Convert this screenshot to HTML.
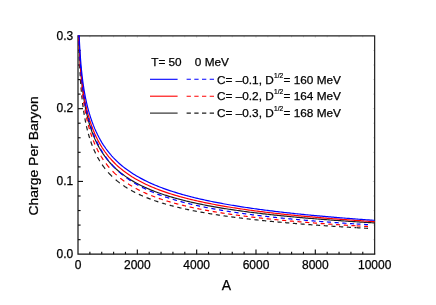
<!DOCTYPE html>
<html><head><meta charset="utf-8"><title>Charge Per Baryon</title>
<style>
html,body{margin:0;padding:0;background:#fff;}
body{width:436px;height:305px;overflow:hidden;}
svg{display:block;}
text{font-family:"Liberation Sans",sans-serif;font-size:12px;fill:#000;stroke:#000;stroke-width:0.25px;}
</style></head><body>
<svg width="436" height="305" viewBox="0 0 436 305">
<defs><filter id="soft" x="0" y="0" width="436" height="305" filterUnits="userSpaceOnUse"><feGaussianBlur stdDeviation="0.22"/></filter></defs>
<g filter="url(#soft)">
<rect width="436" height="305" fill="#fff"/>
<defs><clipPath id="cp"><rect x="77.25" y="35.15" width="298.15" height="219.80"/></clipPath></defs>
<g stroke="#111" stroke-width="1.15" fill="none">
<line x1="89.87" y1="254.20" x2="89.87" y2="251.80"/>
<line x1="101.73" y1="254.20" x2="101.73" y2="251.80"/>
<line x1="113.60" y1="254.20" x2="113.60" y2="251.80"/>
<line x1="125.46" y1="254.20" x2="125.46" y2="251.80"/>
<line x1="137.33" y1="254.20" x2="137.33" y2="249.40"/>
<line x1="149.20" y1="254.20" x2="149.20" y2="251.80"/>
<line x1="161.06" y1="254.20" x2="161.06" y2="251.80"/>
<line x1="172.93" y1="254.20" x2="172.93" y2="251.80"/>
<line x1="184.79" y1="254.20" x2="184.79" y2="251.80"/>
<line x1="196.66" y1="254.20" x2="196.66" y2="249.40"/>
<line x1="208.53" y1="254.20" x2="208.53" y2="251.80"/>
<line x1="220.39" y1="254.20" x2="220.39" y2="251.80"/>
<line x1="232.26" y1="254.20" x2="232.26" y2="251.80"/>
<line x1="244.12" y1="254.20" x2="244.12" y2="251.80"/>
<line x1="255.99" y1="254.20" x2="255.99" y2="249.40"/>
<line x1="267.86" y1="254.20" x2="267.86" y2="251.80"/>
<line x1="279.72" y1="254.20" x2="279.72" y2="251.80"/>
<line x1="291.59" y1="254.20" x2="291.59" y2="251.80"/>
<line x1="303.45" y1="254.20" x2="303.45" y2="251.80"/>
<line x1="315.32" y1="254.20" x2="315.32" y2="249.40"/>
<line x1="327.19" y1="254.20" x2="327.19" y2="251.80"/>
<line x1="339.05" y1="254.20" x2="339.05" y2="251.80"/>
<line x1="350.92" y1="254.20" x2="350.92" y2="251.80"/>
<line x1="362.78" y1="254.20" x2="362.78" y2="251.80"/>
<line x1="78.00" y1="239.65" x2="80.60" y2="239.65"/>
<line x1="78.00" y1="225.09" x2="80.60" y2="225.09"/>
<line x1="78.00" y1="210.54" x2="80.60" y2="210.54"/>
<line x1="78.00" y1="195.99" x2="80.60" y2="195.99"/>
<line x1="78.00" y1="181.43" x2="83.00" y2="181.43"/>
<line x1="78.00" y1="166.88" x2="80.60" y2="166.88"/>
<line x1="78.00" y1="152.33" x2="80.60" y2="152.33"/>
<line x1="78.00" y1="137.77" x2="80.60" y2="137.77"/>
<line x1="78.00" y1="123.22" x2="80.60" y2="123.22"/>
<line x1="78.00" y1="108.67" x2="83.00" y2="108.67"/>
<line x1="78.00" y1="94.11" x2="80.60" y2="94.11"/>
<line x1="78.00" y1="79.56" x2="80.60" y2="79.56"/>
<line x1="78.00" y1="65.01" x2="80.60" y2="65.01"/>
<line x1="78.00" y1="50.45" x2="80.60" y2="50.45"/>
</g>
<g stroke="#2a2a2a" stroke-width="1.0" fill="none" opacity="0.22">
<line x1="89.87" y1="35.90" x2="89.87" y2="37.30"/>
<line x1="101.73" y1="35.90" x2="101.73" y2="37.30"/>
<line x1="113.60" y1="35.90" x2="113.60" y2="37.30"/>
<line x1="125.46" y1="35.90" x2="125.46" y2="37.30"/>
<line x1="137.33" y1="35.90" x2="137.33" y2="37.70"/>
<line x1="149.20" y1="35.90" x2="149.20" y2="37.30"/>
<line x1="161.06" y1="35.90" x2="161.06" y2="37.30"/>
<line x1="172.93" y1="35.90" x2="172.93" y2="37.30"/>
<line x1="184.79" y1="35.90" x2="184.79" y2="37.30"/>
<line x1="196.66" y1="35.90" x2="196.66" y2="37.70"/>
<line x1="208.53" y1="35.90" x2="208.53" y2="37.30"/>
<line x1="220.39" y1="35.90" x2="220.39" y2="37.30"/>
<line x1="232.26" y1="35.90" x2="232.26" y2="37.30"/>
<line x1="244.12" y1="35.90" x2="244.12" y2="37.30"/>
<line x1="255.99" y1="35.90" x2="255.99" y2="37.70"/>
<line x1="267.86" y1="35.90" x2="267.86" y2="37.30"/>
<line x1="279.72" y1="35.90" x2="279.72" y2="37.30"/>
<line x1="291.59" y1="35.90" x2="291.59" y2="37.30"/>
<line x1="303.45" y1="35.90" x2="303.45" y2="37.30"/>
<line x1="315.32" y1="35.90" x2="315.32" y2="37.70"/>
<line x1="327.19" y1="35.90" x2="327.19" y2="37.30"/>
<line x1="339.05" y1="35.90" x2="339.05" y2="37.30"/>
<line x1="350.92" y1="35.90" x2="350.92" y2="37.30"/>
<line x1="362.78" y1="35.90" x2="362.78" y2="37.30"/>
<line x1="374.65" y1="239.65" x2="373.25" y2="239.65"/>
<line x1="374.65" y1="225.09" x2="373.25" y2="225.09"/>
<line x1="374.65" y1="210.54" x2="373.25" y2="210.54"/>
<line x1="374.65" y1="195.99" x2="373.25" y2="195.99"/>
<line x1="374.65" y1="181.43" x2="372.85" y2="181.43"/>
<line x1="374.65" y1="166.88" x2="373.25" y2="166.88"/>
<line x1="374.65" y1="152.33" x2="373.25" y2="152.33"/>
<line x1="374.65" y1="137.77" x2="373.25" y2="137.77"/>
<line x1="374.65" y1="123.22" x2="373.25" y2="123.22"/>
<line x1="374.65" y1="108.67" x2="372.85" y2="108.67"/>
<line x1="374.65" y1="94.11" x2="373.25" y2="94.11"/>
<line x1="374.65" y1="79.56" x2="373.25" y2="79.56"/>
<line x1="374.65" y1="65.01" x2="373.25" y2="65.01"/>
<line x1="374.65" y1="50.45" x2="373.25" y2="50.45"/>
</g>
<path d="M78.00,35.90 H374.65 V254.20" fill="none" stroke="#222" stroke-width="1.2" stroke-linejoin="miter"/>
<path d="M78.00,35.30 V254.20 H375.25" fill="none" stroke="#111" stroke-width="1.2" stroke-linejoin="miter"/>
<g clip-path="url(#cp)">
<path d="M78.00,-8.09 L78.30,14.63 L78.59,26.52 L78.89,35.76 L79.19,43.43 L79.48,50.01 L79.78,55.77 L80.08,60.88 L80.37,65.46 L80.67,69.60 L80.97,73.38 L81.26,76.84 L81.56,80.03 L81.86,82.99 L82.15,85.74 L82.45,88.31 L82.75,90.73 L83.04,93.00 L83.34,95.15 L83.64,97.18 L83.93,99.11 L84.23,100.95 L84.53,102.71 L84.82,104.39 L85.12,106.00 L85.42,107.55 L85.71,109.03 L86.01,110.47 L86.31,111.85 L86.60,113.18 L86.90,114.47 L87.20,115.72 L87.49,116.93 L87.79,118.10 L88.09,119.24 L88.38,120.35 L88.68,121.42 L88.98,122.47 L89.27,123.49 L89.57,124.48 L89.87,125.45 L90.46,127.32 L91.89,131.48 L93.32,135.22 L94.74,138.63 L96.17,141.75 L97.60,144.62 L99.03,147.27 L100.46,149.74 L101.88,152.04 L103.31,154.20 L104.74,156.22 L106.17,158.13 L107.60,159.93 L109.02,161.63 L110.45,163.25 L111.88,164.79 L113.31,166.25 L114.74,167.64 L116.16,168.97 L117.59,170.25 L119.02,171.47 L120.45,172.64 L121.88,173.76 L123.31,174.84 L124.73,175.88 L126.16,176.88 L127.59,177.85 L129.02,178.78 L130.45,179.68 L131.87,180.55 L133.30,181.39 L134.73,182.21 L136.16,183.00 L137.59,183.76 L139.01,184.50 L140.44,185.23 L141.87,185.93 L143.30,186.61 L144.73,187.27 L146.15,187.91 L147.58,188.54 L149.01,189.15 L150.44,189.75 L151.87,190.33 L153.30,190.89 L154.72,191.44 L156.15,191.98 L157.58,192.51 L159.01,193.02 L160.44,193.53 L161.86,194.02 L163.29,194.50 L164.72,194.97 L166.15,195.43 L167.58,195.88 L169.00,196.32 L170.43,196.75 L171.86,197.17 L173.29,197.59 L174.72,197.99 L176.14,198.39 L177.57,198.78 L179.00,199.16 L180.43,199.54 L181.86,199.91 L183.29,200.27 L184.71,200.63 L186.14,200.98 L187.57,201.32 L189.00,201.66 L190.43,201.99 L191.85,202.31 L193.28,202.63 L194.71,202.95 L196.14,203.26 L197.57,203.56 L198.99,203.86 L200.42,204.16 L201.85,204.45 L203.28,204.73 L204.71,205.01 L206.13,205.29 L207.56,205.56 L208.99,205.83 L210.42,206.10 L211.85,206.36 L213.28,206.62 L214.70,206.87 L216.13,207.12 L217.56,207.37 L218.99,207.61 L220.42,207.85 L221.84,208.08 L223.27,208.32 L224.70,208.55 L226.13,208.77 L227.56,209.00 L228.98,209.22 L230.41,209.44 L231.84,209.65 L233.27,209.86 L234.70,210.07 L236.12,210.28 L237.55,210.48 L238.98,210.69 L240.41,210.89 L241.84,211.08 L243.27,211.28 L244.69,211.47 L246.12,211.66 L247.55,211.85 L248.98,212.03 L250.41,212.22 L251.83,212.40 L253.26,212.58 L254.69,212.75 L256.12,212.93 L257.55,213.10 L258.97,213.27 L260.40,213.44 L261.83,213.61 L263.26,213.78 L264.69,213.94 L266.11,214.10 L267.54,214.26 L268.97,214.42 L270.40,214.58 L271.83,214.74 L273.26,214.89 L274.68,215.04 L276.11,215.19 L277.54,215.34 L278.97,215.49 L280.40,215.64 L281.82,215.78 L283.25,215.92 L284.68,216.07 L286.11,216.21 L287.54,216.35 L288.96,216.48 L290.39,216.62 L291.82,216.76 L293.25,216.89 L294.68,217.02 L296.10,217.15 L297.53,217.28 L298.96,217.41 L300.39,217.54 L301.82,217.67 L303.25,217.79 L304.67,217.92 L306.10,218.04 L307.53,218.16 L308.96,218.29 L310.39,218.41 L311.81,218.52 L313.24,218.64 L314.67,218.76 L316.10,218.88 L317.53,218.99 L318.95,219.10 L320.38,219.22 L321.81,219.33 L323.24,219.44 L324.67,219.55 L326.09,219.66 L327.52,219.77 L328.95,219.88 L330.38,219.98 L331.81,220.09 L333.24,220.19 L334.66,220.30 L336.09,220.40 L337.52,220.51 L338.95,220.61 L340.38,220.71 L341.80,220.81 L343.23,220.91 L344.66,221.01 L346.09,221.10 L347.52,221.20 L348.94,221.30 L350.37,221.39 L351.80,221.49 L353.23,221.58 L354.66,221.68 L356.08,221.77 L357.51,221.86 L358.94,221.95 L360.37,222.04 L361.80,222.13 L363.23,222.22 L364.65,222.31 L366.08,222.40 L367.51,222.49 L368.94,222.58 L370.37,222.66 L371.79,222.75 L373.22,222.83 L374.65,222.92" fill="none" stroke="#1e1e1e" stroke-width="1.2"/>
<path d="M78.47,34.01 L78.49,34.61 L78.50,35.19 L78.52,35.77 L78.53,36.34 L78.55,36.90 L78.56,37.45 M78.68,41.64 L78.70,42.14 L78.71,42.63 L78.73,43.12 L78.74,43.60 L78.76,44.07 L78.77,44.54 L78.79,45.01 L78.80,45.47 M78.93,49.43 L78.95,49.85 L78.96,50.27 L78.98,50.68 L78.99,51.09 L79.01,51.49 L79.02,51.90 L79.04,52.29 L79.05,52.69 L79.07,53.08 M79.22,56.83 L79.23,57.19 L79.26,57.90 L79.29,58.59 L79.32,59.28 L79.35,59.96 L79.38,60.63 M79.56,64.46 L79.57,64.76 L79.60,65.36 L79.63,65.96 L79.66,66.55 L79.69,67.13 L79.72,67.70 L79.75,68.27 L79.77,68.55 M79.97,72.31 L79.99,72.57 L80.02,73.08 L80.05,73.58 L80.08,74.08 L80.11,74.57 L80.14,75.06 L80.17,75.54 L80.20,76.02 L80.21,76.25 M80.45,79.87 L80.46,80.09 L80.51,80.73 L80.55,81.36 L80.60,81.99 L80.64,82.60 L80.68,83.21 L80.73,83.81 L80.74,84.00 M81.03,87.59 L81.04,87.77 L81.10,88.48 L81.16,89.18 L81.22,89.87 L81.28,90.55 L81.34,91.22 L81.38,91.71 M81.72,95.30 L81.74,95.45 L81.81,96.18 L81.89,96.91 L81.96,97.62 L82.03,98.31 L82.11,99.00 L82.15,99.40 M82.57,102.99 L82.58,103.12 L82.67,103.84 L82.76,104.55 L82.85,105.25 L82.94,105.94 L83.03,106.61 L83.10,107.16 M83.61,110.72 L83.62,110.82 L83.73,111.51 L83.83,112.18 L83.93,112.85 L84.04,113.50 L84.14,114.15 L84.24,114.78 L84.26,114.87 M84.88,118.44 L84.90,118.52 L85.03,119.24 L85.16,119.95 L85.30,120.64 L85.43,121.32 L85.56,121.99 L85.68,122.57 M86.44,126.10 L86.45,126.16 L86.62,126.88 L86.78,127.58 L86.94,128.27 L87.11,128.95 L87.27,129.61 L87.43,130.27 M88.37,133.80 L88.38,133.85 L88.59,134.59 L88.80,135.31 L89.01,136.02 L89.21,136.72 L89.42,137.41 L89.60,137.98 M90.76,141.52 L90.77,141.56 L91.02,142.29 L91.28,143.00 L91.53,143.69 L91.78,144.38 L92.03,145.05 L92.27,145.67 M93.71,149.21 L93.72,149.24 L94.03,149.96 L94.35,150.67 L94.66,151.36 L94.97,152.04 L95.28,152.70 L95.59,153.35 L95.61,153.38 M97.42,156.93 L97.43,156.95 L97.83,157.69 L98.23,158.41 L98.63,159.11 L99.03,159.80 L99.43,160.47 L99.80,161.08 M102.10,164.62 L102.12,164.65 L102.62,165.37 L103.13,166.08 L103.63,166.77 L104.13,167.45 L104.64,168.11 L105.14,168.76 L105.17,168.79 M108.12,172.31 L108.14,172.33 L108.81,173.07 L109.47,173.79 L110.14,174.49 L110.81,175.18 L111.48,175.85 L112.13,176.48 M115.65,179.69 L115.72,179.75 L116.37,180.30 L117.02,180.84 L117.67,181.37 L118.33,181.89 L118.98,182.40 L119.63,182.90 L119.83,183.05 M123.35,185.57 L123.42,185.62 L124.07,186.05 L124.72,186.49 L125.38,186.91 L126.03,187.33 L126.68,187.74 L127.33,188.14 L127.53,188.26 M131.06,190.32 L131.12,190.35 L131.77,190.71 L132.43,191.07 L133.08,191.42 L133.73,191.76 L134.38,192.10 L135.04,192.44 L135.23,192.53 M138.82,194.28 L138.89,194.31 L139.54,194.61 L140.19,194.91 L140.85,195.21 L141.50,195.50 L142.15,195.79 L142.80,196.07 L142.93,196.12 M146.52,197.61 L146.59,197.64 L147.24,197.90 L147.90,198.15 L148.55,198.41 L149.20,198.66 L149.85,198.90 L150.51,199.15 L150.64,199.20 M154.23,200.48 L154.29,200.51 L154.94,200.73 L155.60,200.95 L156.25,201.18 L156.90,201.39 L157.56,201.61 L158.21,201.82 L158.34,201.86 M161.93,202.99 L161.99,203.01 L162.65,203.21 L163.30,203.41 L163.95,203.60 L164.61,203.79 L165.26,203.98 L165.91,204.17 L166.04,204.21 M169.63,205.21 L169.70,205.23 L170.35,205.40 L171.00,205.58 L171.65,205.75 L172.31,205.92 L172.96,206.09 L173.61,206.26 L173.74,206.29 M177.33,207.19 L177.40,207.21 L178.05,207.36 L178.70,207.52 L179.36,207.68 L180.01,207.83 L180.66,207.98 L181.31,208.13 L181.45,208.16 M185.04,208.97 L185.10,208.98 L185.75,209.13 L186.41,209.27 L187.06,209.41 L187.71,209.55 L188.36,209.69 L189.02,209.82 L189.15,209.85 M192.74,210.58 L192.80,210.60 L193.46,210.73 L194.11,210.85 L194.76,210.98 L195.41,211.11 L196.07,211.23 L196.72,211.36 L196.85,211.38 M200.44,212.05 L200.50,212.06 L201.16,212.18 L201.81,212.30 L202.46,212.42 L203.12,212.53 L203.77,212.65 L204.42,212.76 L204.55,212.79 M208.14,213.40 L208.21,213.41 L208.86,213.52 L209.51,213.63 L210.16,213.74 L210.82,213.84 L211.47,213.95 L212.12,214.05 L212.25,214.07 M215.84,214.64 L215.91,214.65 L216.56,214.75 L217.21,214.85 L217.87,214.95 L218.52,215.05 L219.17,215.15 L219.83,215.25 L219.96,215.26 M223.55,215.79 L223.61,215.80 L224.26,215.89 L224.92,215.98 L225.57,216.08 L226.22,216.17 L226.87,216.26 L227.53,216.35 L227.66,216.37 M231.25,216.85 L231.31,216.86 L231.97,216.95 L232.62,217.04 L233.27,217.12 L233.92,217.21 L234.58,217.29 L235.23,217.38 L235.36,217.39 M238.95,217.85 L239.01,217.86 L239.67,217.94 L240.32,218.02 L240.97,218.10 L241.63,218.18 L242.28,218.26 L242.93,218.34 L243.06,218.35 M246.65,218.78 L246.72,218.78 L247.37,218.86 L248.02,218.94 L248.68,219.01 L249.33,219.09 L249.98,219.16 L250.63,219.23 L250.83,219.26 M254.35,219.65 L254.42,219.66 L255.07,219.73 L255.72,219.80 L256.38,219.87 L257.03,219.94 L257.68,220.01 L258.34,220.08 L258.53,220.10 M262.06,220.47 L262.12,220.47 L262.77,220.54 L263.43,220.61 L264.08,220.67 L264.73,220.74 L265.38,220.81 L266.04,220.87 L266.23,220.89 M269.76,221.24 L269.82,221.25 L270.48,221.31 L271.13,221.37 L271.78,221.43 L272.43,221.50 L273.09,221.56 L273.74,221.62 L273.94,221.64 M277.46,221.97 L277.53,221.97 L278.18,222.03 L278.83,222.09 L279.48,222.15 L280.14,222.21 L280.79,222.27 L281.44,222.33 L281.64,222.35 M285.16,222.66 L285.23,222.66 L285.88,222.72 L286.53,222.78 L287.19,222.83 L287.84,222.89 L288.49,222.95 L289.14,223.00 L289.34,223.02 M292.86,223.31 L292.93,223.32 L293.58,223.37 L294.24,223.43 L294.89,223.48 L295.54,223.53 L296.19,223.59 L296.85,223.64 L297.04,223.66 M300.57,223.94 L300.63,223.94 L301.28,223.99 L301.94,224.04 L302.59,224.10 L303.24,224.15 L303.90,224.20 L304.55,224.25 L304.74,224.26 M308.33,224.53 L308.40,224.54 L309.05,224.59 L309.70,224.64 L310.36,224.69 L311.01,224.73 L311.66,224.78 L312.32,224.83 L312.45,224.84 M316.04,225.10 L316.10,225.10 L316.75,225.15 L317.41,225.20 L318.06,225.24 L318.71,225.29 L319.36,225.34 L320.02,225.38 L320.15,225.39 M323.74,225.64 L323.80,225.64 L324.46,225.69 L325.11,225.73 L325.76,225.78 L326.41,225.82 L327.07,225.87 L327.72,225.91 L327.85,225.92 M331.44,226.16 L331.51,226.16 L332.16,226.20 L332.81,226.25 L333.46,226.29 L334.12,226.33 L334.77,226.37 L335.42,226.41 L335.55,226.42 M339.14,226.65 L339.21,226.65 L339.86,226.70 L340.51,226.74 L341.17,226.78 L341.82,226.82 L342.47,226.86 L343.12,226.90 L343.25,226.91 M346.84,227.12 L346.91,227.13 L347.56,227.17 L348.21,227.21 L348.87,227.25 L349.52,227.28 L350.17,227.32 L350.83,227.36 L350.96,227.37 M354.55,227.58 L354.61,227.58 L354.87,227.60 L355.13,227.61 L355.39,227.63 L355.66,227.64 L355.92,227.66 L356.18,227.67 M356.60,227.70 L358.55,227.81 L360.50,227.92 M364.10,228.12 L366.05,228.23 L368.00,228.33" fill="none" stroke="#1e1e1e" stroke-width="1.2"/>
<path d="M78.00,1.97 L78.30,19.66 L78.59,29.72 L78.89,37.72 L79.19,44.46 L79.48,50.30 L79.78,55.45 L80.08,60.05 L80.37,64.20 L80.67,67.97 L80.97,71.42 L81.26,74.59 L81.56,77.53 L81.86,80.26 L82.15,82.81 L82.45,85.20 L82.75,87.45 L83.04,89.57 L83.34,91.59 L83.64,93.50 L83.93,95.32 L84.23,97.06 L84.53,98.72 L84.82,100.32 L85.12,101.85 L85.42,103.32 L85.71,104.74 L86.01,106.11 L86.31,107.44 L86.60,108.72 L86.90,109.97 L87.20,111.17 L87.49,112.34 L87.79,113.48 L88.09,114.58 L88.38,115.66 L88.68,116.71 L88.98,117.73 L89.27,118.72 L89.57,119.70 L89.87,120.65 L90.46,122.48 L91.89,126.58 L93.32,130.30 L94.74,133.69 L96.17,136.81 L97.60,139.70 L99.03,142.38 L100.46,144.88 L101.88,147.22 L103.31,149.41 L104.74,151.48 L106.17,153.43 L107.60,155.28 L109.02,157.03 L110.45,158.69 L111.88,160.27 L113.31,161.78 L114.74,163.23 L116.16,164.61 L117.59,165.93 L119.02,167.19 L120.45,168.41 L121.88,169.58 L123.31,170.71 L124.73,171.79 L126.16,172.84 L127.59,173.85 L129.02,174.82 L130.45,175.76 L131.87,176.68 L133.30,177.56 L134.73,178.41 L136.16,179.24 L137.59,180.05 L139.01,180.83 L140.44,181.59 L141.87,182.33 L143.30,183.04 L144.73,183.74 L146.15,184.42 L147.58,185.08 L149.01,185.73 L150.44,186.35 L151.87,186.97 L153.30,187.57 L154.72,188.15 L156.15,188.72 L157.58,189.28 L159.01,189.82 L160.44,190.35 L161.86,190.87 L163.29,191.38 L164.72,191.88 L166.15,192.37 L167.58,192.84 L169.00,193.31 L170.43,193.77 L171.86,194.22 L173.29,194.66 L174.72,195.09 L176.14,195.51 L177.57,195.92 L179.00,196.33 L180.43,196.73 L181.86,197.12 L183.29,197.51 L184.71,197.88 L186.14,198.26 L187.57,198.62 L189.00,198.98 L190.43,199.33 L191.85,199.68 L193.28,200.02 L194.71,200.35 L196.14,200.68 L197.57,201.01 L198.99,201.33 L200.42,201.64 L201.85,201.95 L203.28,202.25 L204.71,202.55 L206.13,202.85 L207.56,203.14 L208.99,203.43 L210.42,203.71 L211.85,203.99 L213.28,204.26 L214.70,204.53 L216.13,204.80 L217.56,205.06 L218.99,205.32 L220.42,205.57 L221.84,205.82 L223.27,206.07 L224.70,206.32 L226.13,206.56 L227.56,206.80 L228.98,207.03 L230.41,207.27 L231.84,207.50 L233.27,207.72 L234.70,207.95 L236.12,208.17 L237.55,208.38 L238.98,208.60 L240.41,208.81 L241.84,209.02 L243.27,209.23 L244.69,209.44 L246.12,209.64 L247.55,209.84 L248.98,210.04 L250.41,210.23 L251.83,210.43 L253.26,210.62 L254.69,210.81 L256.12,210.99 L257.55,211.18 L258.97,211.36 L260.40,211.54 L261.83,211.72 L263.26,211.90 L264.69,212.07 L266.11,212.25 L267.54,212.42 L268.97,212.59 L270.40,212.75 L271.83,212.92 L273.26,213.08 L274.68,213.25 L276.11,213.41 L277.54,213.57 L278.97,213.72 L280.40,213.88 L281.82,214.03 L283.25,214.19 L284.68,214.34 L286.11,214.49 L287.54,214.64 L288.96,214.79 L290.39,214.93 L291.82,215.08 L293.25,215.22 L294.68,215.36 L296.10,215.50 L297.53,215.64 L298.96,215.78 L300.39,215.91 L301.82,216.05 L303.25,216.18 L304.67,216.32 L306.10,216.45 L307.53,216.58 L308.96,216.71 L310.39,216.83 L311.81,216.96 L313.24,217.09 L314.67,217.21 L316.10,217.34 L317.53,217.46 L318.95,217.58 L320.38,217.70 L321.81,217.82 L323.24,217.94 L324.67,218.06 L326.09,218.17 L327.52,218.29 L328.95,218.40 L330.38,218.52 L331.81,218.63 L333.24,218.74 L334.66,218.85 L336.09,218.96 L337.52,219.07 L338.95,219.18 L340.38,219.29 L341.80,219.40 L343.23,219.50 L344.66,219.61 L346.09,219.71 L347.52,219.82 L348.94,219.92 L350.37,220.02 L351.80,220.12 L353.23,220.22 L354.66,220.32 L356.08,220.42 L357.51,220.52 L358.94,220.62 L360.37,220.71 L361.80,220.81 L363.23,220.91 L364.65,221.00 L366.08,221.09 L367.51,221.19 L368.94,221.28 L370.37,221.37 L371.79,221.46 L373.22,221.55 L374.65,221.64" fill="none" stroke="#ff0000" stroke-width="1.2"/>
<path d="M78.70,33.01 L78.71,33.49 L78.73,33.95 L78.74,34.42 L78.76,34.87 L78.77,35.33 L78.79,35.78 L78.80,36.22 L78.82,36.66 M78.95,40.46 L78.96,40.86 L78.98,41.26 L78.99,41.66 L79.01,42.05 L79.02,42.44 L79.04,42.83 L79.05,43.21 L79.07,43.59 L79.08,43.97 L79.10,44.35 M79.25,47.95 L79.26,48.29 L79.29,48.98 L79.32,49.65 L79.35,50.31 L79.38,50.97 L79.41,51.62 L79.42,51.94 M79.60,55.62 L79.62,55.92 L79.65,56.50 L79.68,57.08 L79.71,57.65 L79.74,58.21 L79.77,58.76 L79.79,59.31 L79.81,59.59 M80.03,63.49 L80.05,63.74 L80.08,64.24 L80.11,64.73 L80.14,65.21 L80.17,65.69 L80.20,66.16 L80.22,66.63 L80.25,67.10 L80.27,67.33 M80.52,71.07 L80.54,71.28 L80.58,71.91 L80.63,72.53 L80.67,73.14 L80.71,73.74 L80.76,74.33 L80.80,74.92 L80.82,75.11 M81.11,78.80 L81.13,78.98 L81.19,79.68 L81.25,80.37 L81.31,81.05 L81.37,81.71 L81.43,82.37 L81.47,82.86 M81.83,86.55 L81.84,86.70 L81.90,87.28 L81.96,87.86 L82.02,88.42 L82.08,88.98 L82.14,89.53 L82.20,90.08 L82.24,90.48 M82.67,94.19 L82.69,94.31 L82.78,95.04 L82.87,95.75 L82.95,96.45 L83.04,97.13 L83.13,97.81 L83.19,98.25 M83.70,101.84 L83.71,101.94 L83.81,102.64 L83.92,103.33 L84.02,104.00 L84.13,104.67 L84.23,105.32 L84.33,105.96 M84.94,109.53 L84.96,109.61 L85.09,110.35 L85.22,111.08 L85.36,111.80 L85.49,112.50 L85.62,113.19 L85.73,113.71 M86.47,117.30 L86.48,117.36 L86.63,118.04 L86.78,118.71 L86.93,119.36 L87.08,120.01 L87.23,120.64 L87.37,121.27 L87.40,121.39 M88.29,124.94 L88.31,125.00 L88.50,125.72 L88.69,126.44 L88.89,127.14 L89.08,127.83 L89.27,128.51 L89.45,129.12 M90.53,132.67 L90.55,132.72 L90.77,133.41 L90.99,134.08 L91.22,134.75 L91.44,135.41 L91.66,136.05 L91.88,136.68 L91.93,136.81 M93.25,140.35 L93.26,140.39 L93.54,141.11 L93.83,141.81 L94.11,142.50 L94.39,143.17 L94.67,143.84 L94.95,144.49 L94.97,144.52 M96.59,148.05 L96.60,148.09 L96.96,148.82 L97.31,149.54 L97.67,150.24 L98.02,150.93 L98.38,151.61 L98.72,152.24 M100.72,155.76 L100.74,155.78 L101.18,156.52 L101.63,157.24 L102.07,157.94 L102.52,158.63 L102.96,159.30 L103.39,159.94 M105.91,163.46 L105.93,163.48 L106.49,164.22 L107.06,164.93 L107.62,165.64 L108.18,166.32 L108.75,167.00 L109.31,167.66 M112.54,171.18 L112.56,171.19 L112.86,171.50 L113.15,171.80 L113.45,172.09 L114.22,172.85 L115.52,174.09 L116.70,175.16 M120.29,178.20 L120.35,178.26 L121.00,178.77 L121.66,179.28 L122.31,179.78 L122.96,180.27 L123.61,180.75 L124.27,181.23 L124.40,181.32 M127.99,183.77 L128.05,183.81 L128.71,184.23 L129.36,184.65 L130.01,185.06 L130.66,185.46 L131.32,185.85 L131.97,186.24 L132.10,186.32 M135.69,188.35 L135.75,188.38 L136.41,188.73 L137.06,189.08 L137.71,189.42 L138.37,189.76 L139.02,190.09 L139.67,190.41 L139.80,190.48 M143.39,192.20 L143.46,192.23 L144.11,192.52 L144.76,192.82 L145.42,193.11 L146.07,193.40 L146.72,193.68 L147.37,193.96 L147.50,194.01 M151.09,195.49 L151.16,195.52 L151.81,195.77 L152.46,196.03 L153.12,196.28 L153.77,196.53 L154.42,196.78 L155.08,197.02 L155.21,197.07 M158.80,198.35 L158.86,198.38 L159.51,198.60 L160.17,198.83 L160.82,199.05 L161.47,199.27 L162.12,199.48 L162.78,199.70 L162.91,199.74 M166.50,200.87 L166.56,200.89 L167.22,201.09 L167.87,201.29 L168.52,201.49 L169.17,201.68 L169.83,201.87 L170.48,202.06 L170.61,202.10 M174.20,203.11 L174.27,203.13 L174.92,203.31 L175.57,203.48 L176.22,203.66 L176.88,203.83 L177.53,204.00 L178.18,204.17 L178.31,204.21 M181.90,205.12 L181.97,205.13 L182.62,205.29 L183.27,205.45 L183.93,205.61 L184.58,205.76 L185.23,205.92 L185.88,206.07 L186.01,206.10 M189.60,206.92 L189.67,206.94 L190.32,207.08 L190.97,207.23 L191.63,207.37 L192.28,207.51 L192.93,207.65 L193.59,207.79 L193.72,207.82 M197.31,208.57 L197.37,208.58 L198.02,208.71 L198.68,208.85 L199.33,208.98 L199.98,209.11 L200.64,209.23 L201.29,209.36 L201.42,209.39 M205.01,210.07 L205.07,210.08 L205.73,210.20 L206.38,210.32 L207.03,210.44 L207.68,210.56 L208.34,210.68 L208.99,210.80 L209.12,210.82 M212.71,211.45 L212.78,211.46 L213.43,211.57 L214.08,211.68 L214.73,211.79 L215.39,211.90 L216.04,212.01 L216.69,212.12 L216.82,212.14 M220.41,212.72 L220.48,212.73 L221.13,212.84 L221.78,212.94 L222.44,213.04 L223.09,213.14 L223.74,213.24 L224.39,213.34 L224.59,213.37 M228.11,213.90 L228.18,213.91 L228.83,214.01 L229.49,214.10 L230.14,214.20 L230.79,214.29 L231.44,214.38 L232.10,214.48 L232.29,214.50 M235.82,215.00 L235.88,215.01 L236.53,215.09 L237.19,215.18 L237.84,215.27 L238.49,215.36 L239.15,215.45 L239.80,215.53 L239.99,215.56 M243.52,216.02 L243.58,216.03 L244.24,216.11 L244.89,216.19 L245.54,216.28 L246.19,216.36 L246.85,216.44 L247.50,216.52 L247.70,216.54 M251.22,216.97 L251.29,216.98 L251.94,217.06 L252.59,217.14 L253.24,217.21 L253.90,217.29 L254.55,217.37 L255.20,217.44 L255.40,217.47 M258.92,217.87 L258.99,217.88 L259.64,217.95 L260.29,218.02 L260.95,218.10 L261.60,218.17 L262.25,218.24 L262.90,218.31 L263.10,218.33 M266.63,218.71 L266.69,218.72 L267.34,218.79 L268.00,218.86 L268.65,218.93 L269.30,218.99 L269.95,219.06 L270.61,219.13 L270.80,219.15 M274.33,219.51 L274.39,219.51 L275.05,219.58 L275.70,219.64 L276.35,219.71 L277.00,219.77 L277.66,219.84 L278.31,219.90 L278.50,219.92 M282.09,220.26 L282.16,220.27 L282.81,220.33 L283.47,220.39 L284.12,220.46 L284.77,220.52 L285.42,220.58 L286.08,220.64 L286.21,220.65 M289.80,220.98 L289.86,220.98 L290.51,221.04 L291.17,221.10 L291.82,221.16 L292.47,221.21 L293.13,221.27 L293.78,221.33 L293.91,221.34 M297.50,221.65 L297.56,221.65 L298.22,221.71 L298.87,221.77 L299.52,221.82 L300.17,221.88 L300.83,221.93 L301.48,221.98 L301.61,221.99 M305.20,222.29 L305.27,222.29 L305.92,222.35 L306.57,222.40 L307.22,222.45 L307.88,222.50 L308.53,222.56 L309.18,222.61 L309.31,222.62 M312.90,222.90 L312.97,222.90 L313.62,222.95 L314.27,223.00 L314.93,223.05 L315.58,223.10 L316.23,223.15 L316.88,223.20 L317.01,223.21 M320.60,223.48 L320.67,223.48 L321.32,223.53 L321.98,223.58 L322.63,223.63 L323.28,223.67 L323.93,223.72 L324.59,223.77 L324.72,223.78 M328.31,224.03 L328.37,224.04 L329.02,224.08 L329.68,224.13 L330.33,224.18 L330.98,224.22 L331.64,224.27 L332.29,224.31 L332.42,224.32 M336.01,224.56 L336.07,224.57 L336.73,224.61 L337.38,224.66 L338.03,224.70 L338.69,224.74 L339.34,224.79 L339.99,224.83 L340.12,224.84 M343.71,225.07 L343.78,225.08 L344.43,225.12 L345.08,225.16 L345.73,225.20 L346.39,225.24 L347.04,225.28 L347.69,225.32 L347.82,225.33 M351.41,225.56 L351.48,225.56 L352.13,225.60 L352.78,225.64 L353.44,225.68 L354.09,225.72 L354.74,225.76 L355.39,225.80 L355.53,225.81 M356.60,225.87 L358.55,225.99 L360.50,226.11 M364.10,226.32 L366.05,226.43 L368.00,226.54" fill="none" stroke="#ff0000" stroke-width="1.2"/>
<path d="M78.00,-7.88 L78.30,10.89 L78.59,21.36 L78.89,29.65 L79.19,36.62 L79.48,42.66 L79.78,47.97 L80.08,52.72 L80.37,56.99 L80.67,60.88 L80.97,64.43 L81.26,67.70 L81.56,70.73 L81.86,73.54 L82.15,76.17 L82.45,78.64 L82.75,80.96 L83.04,83.15 L83.34,85.22 L83.64,87.19 L83.93,89.07 L84.23,90.86 L84.53,92.58 L84.82,94.22 L85.12,95.80 L85.42,97.32 L85.71,98.79 L86.01,100.20 L86.31,101.57 L86.60,102.89 L86.90,104.17 L87.20,105.41 L87.49,106.62 L87.79,107.79 L88.09,108.93 L88.38,110.04 L88.68,111.12 L88.98,112.17 L89.27,113.20 L89.57,114.20 L89.87,115.18 L90.46,117.07 L91.89,121.30 L93.32,125.13 L94.74,128.63 L96.17,131.85 L97.60,134.82 L99.03,137.58 L100.46,140.16 L101.88,142.57 L103.31,144.84 L104.74,146.97 L106.17,148.99 L107.60,150.89 L109.02,152.70 L110.45,154.42 L111.88,156.06 L113.31,157.62 L114.74,159.11 L116.16,160.54 L117.59,161.90 L119.02,163.21 L120.45,164.47 L121.88,165.68 L123.31,166.85 L124.73,167.97 L126.16,169.05 L127.59,170.10 L129.02,171.11 L130.45,172.09 L131.87,173.03 L133.30,173.95 L134.73,174.84 L136.16,175.70 L137.59,176.53 L139.01,177.34 L140.44,178.13 L141.87,178.90 L143.30,179.64 L144.73,180.37 L146.15,181.08 L147.58,181.76 L149.01,182.43 L150.44,183.09 L151.87,183.73 L153.30,184.35 L154.72,184.96 L156.15,185.55 L157.58,186.13 L159.01,186.70 L160.44,187.25 L161.86,187.79 L163.29,188.32 L164.72,188.84 L166.15,189.35 L167.58,189.85 L169.00,190.34 L170.43,190.81 L171.86,191.28 L173.29,191.74 L174.72,192.19 L176.14,192.64 L177.57,193.07 L179.00,193.49 L180.43,193.91 L181.86,194.32 L183.29,194.73 L184.71,195.12 L186.14,195.51 L187.57,195.89 L189.00,196.27 L190.43,196.64 L191.85,197.00 L193.28,197.36 L194.71,197.71 L196.14,198.06 L197.57,198.40 L198.99,198.73 L200.42,199.06 L201.85,199.38 L203.28,199.70 L204.71,200.02 L206.13,200.33 L207.56,200.64 L208.99,200.94 L210.42,201.23 L211.85,201.53 L213.28,201.81 L214.70,202.10 L216.13,202.38 L217.56,202.66 L218.99,202.93 L220.42,203.20 L221.84,203.46 L223.27,203.72 L224.70,203.98 L226.13,204.24 L227.56,204.49 L228.98,204.74 L230.41,204.98 L231.84,205.23 L233.27,205.46 L234.70,205.70 L236.12,205.93 L237.55,206.16 L238.98,206.39 L240.41,206.62 L241.84,206.84 L243.27,207.06 L244.69,207.28 L246.12,207.49 L247.55,207.70 L248.98,207.91 L250.41,208.12 L251.83,208.33 L253.26,208.53 L254.69,208.73 L256.12,208.93 L257.55,209.12 L258.97,209.32 L260.40,209.51 L261.83,209.70 L263.26,209.89 L264.69,210.07 L266.11,210.26 L267.54,210.44 L268.97,210.62 L270.40,210.80 L271.83,210.97 L273.26,211.15 L274.68,211.32 L276.11,211.49 L277.54,211.66 L278.97,211.83 L280.40,212.00 L281.82,212.16 L283.25,212.32 L284.68,212.49 L286.11,212.65 L287.54,212.81 L288.96,212.96 L290.39,213.12 L291.82,213.27 L293.25,213.42 L294.68,213.58 L296.10,213.73 L297.53,213.87 L298.96,214.02 L300.39,214.17 L301.82,214.31 L303.25,214.46 L304.67,214.60 L306.10,214.74 L307.53,214.88 L308.96,215.02 L310.39,215.15 L311.81,215.29 L313.24,215.43 L314.67,215.56 L316.10,215.69 L317.53,215.82 L318.95,215.96 L320.38,216.08 L321.81,216.21 L323.24,216.34 L324.67,216.47 L326.09,216.59 L327.52,216.72 L328.95,216.84 L330.38,216.96 L331.81,217.08 L333.24,217.21 L334.66,217.33 L336.09,217.44 L337.52,217.56 L338.95,217.68 L340.38,217.79 L341.80,217.91 L343.23,218.02 L344.66,218.14 L346.09,218.25 L347.52,218.36 L348.94,218.47 L350.37,218.58 L351.80,218.69 L353.23,218.80 L354.66,218.91 L356.08,219.02 L357.51,219.12 L358.94,219.23 L360.37,219.33 L361.80,219.44 L363.23,219.54 L364.65,219.64 L366.08,219.74 L367.51,219.85 L368.94,219.95 L370.37,220.05 L371.79,220.15 L373.22,220.24 L374.65,220.34" fill="none" stroke="#0000ff" stroke-width="1.2"/>
<path d="M78.74,33.45 L78.76,33.85 L78.77,34.24 L78.79,34.63 L78.80,35.02 L78.82,35.40 L78.83,35.78 L78.85,36.16 L78.86,36.53 L78.88,36.90 L78.89,37.27 M79.05,41.13 L79.07,41.47 L79.10,42.13 L79.13,42.79 L79.16,43.43 L79.19,44.07 L79.22,44.70 L79.23,45.01 M79.42,48.87 L79.44,49.16 L79.47,49.72 L79.50,50.28 L79.53,50.83 L79.56,51.37 L79.59,51.91 L79.62,52.44 L79.63,52.70 M79.85,56.48 L79.87,56.72 L79.91,57.44 L79.96,58.14 L80.00,58.84 L80.05,59.52 L80.09,60.19 L80.11,60.41 M80.36,64.03 L80.37,64.23 L80.42,64.84 L80.46,65.43 L80.51,66.02 L80.55,66.60 L80.60,67.18 L80.64,67.74 L80.67,68.12 M80.98,71.85 L81.00,72.02 L81.06,72.70 L81.11,73.36 L81.17,74.01 L81.23,74.65 L81.29,75.29 L81.34,75.76 M81.71,79.47 L81.72,79.61 L81.80,80.31 L81.87,81.00 L81.95,81.68 L82.02,82.35 L82.09,83.01 L82.15,83.52 M82.60,87.21 L82.61,87.33 L82.70,88.03 L82.79,88.72 L82.88,89.39 L82.97,90.05 L83.06,90.71 L83.13,91.24 M83.67,94.91 L83.68,95.01 L83.78,95.68 L83.89,96.35 L83.99,97.00 L84.10,97.64 L84.20,98.28 L84.30,98.90 L84.32,98.99 M84.94,102.54 L84.96,102.62 L85.09,103.34 L85.22,104.05 L85.36,104.74 L85.49,105.43 L85.62,106.10 L85.74,106.69 M86.50,110.27 L86.51,110.34 L86.66,111.01 L86.81,111.66 L86.96,112.31 L87.11,112.95 L87.26,113.57 L87.40,114.19 L87.45,114.38 M88.35,117.95 L88.37,118.00 L88.56,118.73 L88.75,119.44 L88.95,120.14 L89.14,120.82 L89.33,121.50 L89.51,122.12 M90.59,125.68 L90.61,125.72 L90.83,126.42 L91.05,127.10 L91.28,127.77 L91.50,128.44 L91.72,129.09 L91.94,129.73 L91.97,129.81 M93.28,133.38 L93.29,133.42 L93.56,134.11 L93.83,134.79 L94.09,135.46 L94.36,136.12 L94.63,136.77 L94.89,137.41 L94.94,137.51 M96.51,141.06 L96.53,141.09 L96.87,141.82 L97.21,142.54 L97.55,143.24 L97.89,143.93 L98.23,144.61 L98.54,145.22 M100.46,148.76 L100.47,148.79 L100.89,149.51 L101.30,150.22 L101.72,150.92 L102.13,151.61 L102.55,152.28 L102.96,152.94 M105.32,156.47 L105.34,156.49 L105.86,157.22 L106.37,157.94 L106.89,158.64 L107.41,159.33 L107.93,160.01 L108.44,160.65 M111.37,164.17 L111.39,164.18 L111.82,164.67 L112.25,165.14 L112.68,165.62 L113.11,166.08 L113.54,166.54 L115.19,168.24 L115.26,168.30 M118.85,171.70 L118.91,171.75 L119.57,172.33 L120.22,172.90 L120.87,173.45 L121.53,174.00 L122.18,174.54 L122.83,175.06 L122.96,175.17 M126.55,177.89 L126.62,177.94 L127.27,178.41 L127.92,178.87 L128.57,179.32 L129.23,179.77 L129.88,180.21 L130.53,180.64 L130.73,180.77 M134.25,182.98 L134.32,183.02 L134.97,183.41 L135.62,183.79 L136.28,184.17 L136.93,184.54 L137.58,184.91 L138.24,185.27 L138.43,185.38 M141.96,187.25 L142.02,187.28 L142.67,187.61 L143.33,187.94 L143.98,188.26 L144.63,188.58 L145.28,188.89 L145.94,189.20 L146.13,189.29 M149.66,190.90 L149.72,190.92 L150.38,191.21 L151.03,191.49 L151.68,191.77 L152.33,192.04 L152.99,192.32 L153.64,192.59 L153.84,192.67 M157.36,194.06 L157.43,194.09 L158.08,194.34 L158.73,194.58 L159.38,194.83 L160.04,195.07 L160.69,195.31 L161.34,195.54 L161.54,195.61 M165.06,196.84 L165.13,196.86 L165.78,197.08 L166.43,197.30 L167.09,197.52 L167.74,197.73 L168.39,197.94 L169.04,198.15 L169.24,198.21 M172.76,199.30 L172.83,199.32 L173.48,199.52 L174.13,199.71 L174.79,199.91 L175.44,200.10 L176.09,200.29 L176.75,200.47 L176.94,200.53 M180.47,201.51 L180.53,201.53 L181.18,201.70 L181.84,201.88 L182.49,202.05 L183.14,202.22 L183.79,202.39 L184.45,202.56 L184.64,202.61 M188.23,203.51 L188.30,203.53 L188.95,203.68 L189.60,203.84 L190.26,204.00 L190.91,204.15 L191.56,204.31 L192.22,204.46 L192.35,204.49 M195.94,205.31 L196.00,205.32 L196.65,205.47 L197.31,205.61 L197.96,205.75 L198.61,205.90 L199.26,206.04 L199.92,206.17 L200.05,206.20 M203.64,206.95 L203.70,206.96 L204.36,207.09 L205.01,207.23 L205.66,207.36 L206.31,207.49 L206.97,207.61 L207.62,207.74 L207.75,207.77 M211.34,208.45 L211.40,208.46 L212.06,208.59 L212.71,208.71 L213.36,208.83 L214.02,208.95 L214.67,209.06 L215.32,209.18 L215.45,209.20 M219.04,209.84 L219.11,209.85 L219.76,209.96 L220.41,210.07 L221.07,210.18 L221.72,210.29 L222.37,210.40 L223.02,210.51 L223.15,210.53 M226.74,211.11 L226.81,211.13 L227.46,211.23 L228.11,211.33 L228.77,211.44 L229.42,211.54 L230.07,211.64 L230.73,211.74 L230.86,211.76 M234.45,212.30 L234.51,212.31 L235.16,212.41 L235.82,212.50 L236.47,212.60 L237.12,212.69 L237.77,212.79 L238.43,212.88 L238.56,212.90 M242.15,213.41 L242.21,213.41 L242.87,213.50 L243.52,213.59 L244.17,213.68 L244.82,213.77 L245.48,213.86 L246.13,213.95 L246.26,213.96 M249.85,214.44 L249.92,214.44 L250.57,214.53 L251.22,214.61 L251.87,214.70 L252.53,214.78 L253.18,214.86 L253.83,214.94 L253.96,214.96 M257.55,215.40 L257.62,215.41 L258.27,215.49 L258.92,215.57 L259.58,215.64 L260.23,215.72 L260.88,215.80 L261.53,215.88 L261.66,215.89 M265.25,216.31 L265.32,216.31 L265.97,216.39 L266.63,216.46 L267.28,216.53 L267.93,216.61 L268.58,216.68 L269.24,216.75 L269.37,216.77 M272.96,217.16 L273.02,217.16 L273.67,217.23 L274.33,217.30 L274.98,217.37 L275.63,217.44 L276.29,217.51 L276.94,217.58 L277.07,217.59 M280.66,217.96 L280.72,217.97 L281.38,218.03 L282.03,218.10 L282.68,218.16 L283.33,218.23 L283.99,218.29 L284.64,218.36 L284.77,218.37 M288.36,218.72 L288.43,218.72 L289.08,218.79 L289.73,218.85 L290.38,218.91 L291.04,218.97 L291.69,219.03 L292.34,219.09 L292.47,219.11 M296.06,219.44 L296.13,219.44 L296.78,219.50 L297.43,219.56 L298.09,219.62 L298.74,219.68 L299.39,219.73 L300.04,219.79 L300.17,219.80 M303.76,220.12 L303.83,220.12 L304.48,220.18 L305.14,220.23 L305.79,220.29 L306.44,220.34 L307.09,220.40 L307.75,220.45 L307.94,220.47 M311.47,220.76 L311.53,220.77 L312.18,220.82 L312.84,220.87 L313.49,220.93 L314.14,220.98 L314.80,221.03 L315.45,221.08 L315.64,221.10 M319.17,221.38 L319.23,221.38 L319.89,221.43 L320.54,221.48 L321.19,221.53 L321.85,221.58 L322.50,221.63 L323.15,221.68 L323.35,221.70 M326.87,221.96 L326.94,221.97 L327.59,222.01 L328.24,222.06 L328.89,222.11 L329.55,222.16 L330.20,222.20 L330.85,222.25 L331.05,222.27 M334.57,222.52 L334.64,222.52 L335.29,222.57 L335.94,222.61 L336.60,222.66 L337.25,222.71 L337.90,222.75 L338.55,222.80 L338.75,222.81 M342.28,223.05 L342.34,223.05 L342.99,223.10 L343.65,223.14 L344.30,223.19 L344.95,223.23 L345.60,223.27 L346.26,223.32 L346.45,223.33 M349.98,223.56 L350.04,223.56 L350.70,223.61 L351.35,223.65 L352.00,223.69 L352.65,223.73 L353.31,223.77 L353.96,223.81 L354.15,223.83 M356.60,223.98 L358.55,224.10 L360.50,224.22 M364.10,224.44 L366.05,224.55 L368.00,224.67" fill="none" stroke="#0000ff" stroke-width="1.2"/>
</g>
<g>
<text x="73.2" y="257.90" text-anchor="end">0.0</text>
<text x="73.2" y="185.13" text-anchor="end">0.1</text>
<text x="73.2" y="112.37" text-anchor="end">0.2</text>
<text x="73.2" y="39.60" text-anchor="end">0.3</text>
<text x="78.00" y="268.5" text-anchor="middle">0</text>
<text x="137.33" y="268.5" text-anchor="middle">2000</text>
<text x="196.66" y="268.5" text-anchor="middle">4000</text>
<text x="255.99" y="268.5" text-anchor="middle">6000</text>
<text x="315.32" y="268.5" text-anchor="middle">8000</text>
<text x="374.65" y="268.5" text-anchor="middle">10000</text>
</g>
<g>
<text x="151.2" y="66.4" xml:space="preserve" style="font-size:11.8px;white-space:pre">T= 50    0 MeV</text>
<line x1="150.0" y1="79.30" x2="177.6" y2="79.30" stroke="#0000ff" stroke-width="1.1"/>
<line x1="186.6" y1="79.30" x2="214.4" y2="79.30" stroke="#0000ff" stroke-width="1.1" stroke-dasharray="4.3,3.4"/>
<text x="217.0" y="83.50" style="font-size:11.8px">C= –0.1, D<tspan dy="-6.0" dx="0.3" style="font-size:6.6px;stroke-width:0.2px">1/2</tspan><tspan dy="6.0" dx="0.3">= 160 MeV</tspan></text>
<line x1="150.0" y1="96.20" x2="177.6" y2="96.20" stroke="#ff0000" stroke-width="1.1"/>
<line x1="186.6" y1="96.20" x2="214.4" y2="96.20" stroke="#ff0000" stroke-width="1.1" stroke-dasharray="4.3,3.4"/>
<text x="217.0" y="100.40" style="font-size:11.8px">C= –0.2, D<tspan dy="-6.0" dx="0.3" style="font-size:6.6px;stroke-width:0.2px">1/2</tspan><tspan dy="6.0" dx="0.3">= 164 MeV</tspan></text>
<line x1="150.0" y1="113.10" x2="177.6" y2="113.10" stroke="#1e1e1e" stroke-width="1.1"/>
<line x1="186.6" y1="113.10" x2="214.4" y2="113.10" stroke="#1e1e1e" stroke-width="1.1" stroke-dasharray="4.3,3.4"/>
<text x="217.0" y="117.30" style="font-size:11.8px">C= –0.3, D<tspan dy="-6.0" dx="0.3" style="font-size:6.6px;stroke-width:0.2px">1/2</tspan><tspan dy="6.0" dx="0.3">= 168 MeV</tspan></text>
</g>
<text x="226.3" y="290" text-anchor="middle" style="font-size:13.95px">A</text>
<text transform="translate(38.1,215.5) rotate(-90) scale(1,0.95)" style="font-size:13.95px">Charge Per Baryon</text>
</g>
</svg>
</body></html>
